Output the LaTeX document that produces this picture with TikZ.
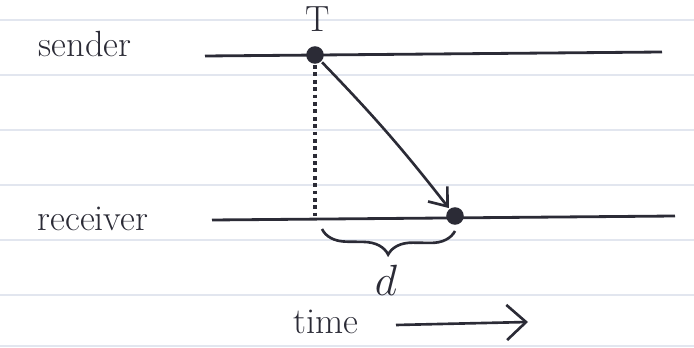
\documentclass[tikz,border=0pt]{standalone}
\usetikzlibrary{arrows.meta,decorations.pathreplacing}
\definecolor{ink}{HTML}{2B2B36}
\definecolor{ruling}{HTML}{E2E6EF}
\begin{document}
\begin{tikzpicture}[x=0.02cm, y=-0.02cm, line width=1.5pt, >={Straight Barb[length=9pt,width=14pt]},
  lbl/.style={font=\huge, text=ink},
  dot/.style={circle, fill=ink, inner sep=0pt, minimum size=10pt},
  timeline/.style={draw=ink, line width=1.6pt}]
  % 0. Paper with faint ruled lines
  \useasboundingbox (0,0) rectangle (694,348);
  \foreach \y in {20,75,130,185,240,295,346} {
    \draw[ruling, line width=0.6pt] (0,\y) -- (694,\y);
  }

  % 1. The two timelines
  \node[lbl] (sender) at (85,44) {sender};
  \node[lbl] (receiver) at (93,219) {receiver};
  \coordinate (s0) at (205,56);
  \coordinate (s1) at (662,52);
  \coordinate (r0) at (212,220);
  \coordinate (r1) at (675,216);
  \draw[timeline] (s0) -- (s1);
  \draw[timeline] (r0) -- (r1);

  % 2. Send and receive events
  \node[dot] (send) at (315,55) {};
  \node[dot] (recv) at (455,216) {};
  \node[lbl] (T) at (318,19) {T};

  % 3. Message, and the drop-line from the send time
  \draw[->, draw=ink] (send) to[bend left=3] (recv);
  \draw[draw=ink, line width=2.2pt, dotted] (send.south) -- (send |- recv);

  % 4. Delay d between the two
  \draw[draw=ink, decorate, decoration={brace, mirror, amplitude=14pt}] (322,229) -- (455,231);
  \node[lbl, font=\Huge] (d) at (386,280) {$d$};

  % 5. Direction of time
  \node[lbl] (time) at (326,322) {time};
  \coordinate (t0) at (396,325);
  \coordinate (t1) at (528,322);
  \draw[->, draw=ink, >={Straight Barb[length=11pt,width=20pt]}] (t0) -- (t1);
\end{tikzpicture}
\end{document}
